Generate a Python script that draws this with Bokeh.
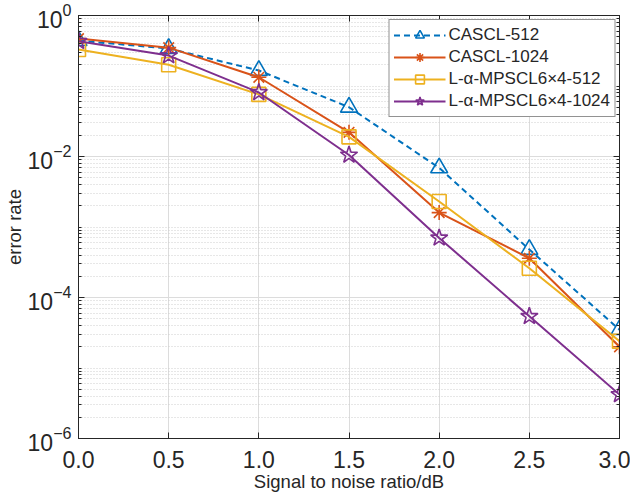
from bokeh.plotting import figure
from bokeh.models import FixedTicker, LogAxis, LinearAxis, LogTickFormatter, NumeralTickFormatter
from bokeh.embed import file_html
from bokeh.resources import INLINE

snr = [0.0, 0.5, 1.0, 1.5, 2.0, 2.5, 3.0]
cascl_512 = [0.44, 0.34, 0.166, 0.050, 0.0069, 4.8e-4, 3.5e-5]
cascl_1024 = [0.47, 0.35, 0.133, 0.022, 0.0016, 3.6e-4, 2.0e-5]
mpscl_512 = [0.33, 0.20, 0.076, 0.019, 0.0023, 2.6e-4, 2.4e-5]
mpscl_1024 = [0.43, 0.27, 0.081, 0.0105, 7.0e-4, 5.4e-5, 4.2e-6]

names = ["CASCL-512", "CASCL-1024", "L-\u03b1-MPSCL6\u00d74-512", "L-\u03b1-MPSCL6\u00d74-1024"]
colors = ["#0072BD", "#D95319", "#EDB120", "#7E2F8E"]
markers = ["triangle", "asterisk", "square", "star"]
sizes = [17, 15, 14, 18]
dashes = ["6 4", "solid", "solid", "solid"]
series = [cascl_512, cascl_1024, mpscl_512, mpscl_1024]

x_ticks = [0.0, 0.5, 1.0, 1.5, 2.0, 2.5, 3.0]
y_ticks = [1e-6, 1e-4, 1e-2, 1.0]

FONT = "Liberation Sans"

p = figure(width=630, height=502, y_axis_type="log", x_range=(0, 3), y_range=(1e-6, 1),
           output_backend="svg", toolbar_location=None,
           min_border_left=77, min_border_right=11, min_border_top=15, min_border_bottom=64)
p.background_fill_color = "white"
p.outline_line_color = "black"
p.outline_line_width = 1

minor = []
for e in range(-6, 0):
    for k in range(1, 10):
        v = k * 10.0 ** e
        if v not in y_ticks:
            minor.append(v)

yt = FixedTicker(ticks=y_ticks, minor_ticks=minor)
xt = FixedTicker(ticks=x_ticks, minor_ticks=[])

p.xaxis[0].ticker = xt
p.xaxis[0].formatter = NumeralTickFormatter(format="0.0")
p.yaxis[0].ticker = yt
p.yaxis[0].formatter = LogTickFormatter()

def style_axis(ax):
    ax.major_tick_in = 6
    ax.major_tick_out = 0
    ax.minor_tick_in = 3
    ax.minor_tick_out = 0
    ax.axis_line_color = "#262626"
    ax.major_tick_line_color = "#262626"
    ax.minor_tick_line_color = "#262626"
    ax.major_label_text_font = FONT
    ax.major_label_text_font_size = "23px"
    ax.major_label_text_color = "#262626"
    ax.axis_label_text_font = FONT
    ax.axis_label_text_font_size = "18.5px"
    ax.axis_label_text_font_style = "normal"
    ax.axis_label_text_color = "#262626"

style_axis(p.xaxis[0])
style_axis(p.yaxis[0])
p.xaxis[0].axis_label = "Signal to noise ratio/dB"
p.yaxis[0].axis_label = "error rate"
p.xaxis[0].major_label_standoff = 12
p.yaxis[0].major_label_standoff = 7
p.xaxis[0].axis_label_standoff = 0
p.yaxis[0].axis_label_standoff = 0

top = LinearAxis(ticker=xt, formatter=NumeralTickFormatter(format="0.0"))
right = LogAxis(ticker=yt, formatter=LogTickFormatter())
for ax in (top, right):
    style_axis(ax)
    ax.major_label_text_font_size = "1px"
    ax.major_label_text_alpha = 0
    ax.major_label_standoff = 0
p.add_layout(top, "above")
p.add_layout(right, "right")

p.xgrid.ticker = xt
p.ygrid.ticker = yt
p.xgrid.grid_line_color = "#dcdcdc"
p.xgrid.grid_line_width = 1
p.ygrid.grid_line_color = "#dcdcdc"
p.ygrid.grid_line_width = 1
p.ygrid.minor_grid_line_color = "#cfcfcf"
p.ygrid.minor_grid_line_dash = "1 2"
p.ygrid.minor_grid_line_width = 1

for name, col, mk, sz, dsh, ys in zip(names, colors, markers, sizes, dashes, series):
    p.line(snr, ys, line_color=col, line_width=2, line_dash=dsh, legend_label=name)
    p.scatter(snr, ys, marker=mk, size=sz, line_color=col, fill_color=None,
              line_width=1.6, legend_label=name)

lg = p.legend[0]
lg.location = "top_right"
lg.margin = 4
lg.padding = 4
lg.spacing = 0
lg.glyph_width = 52
lg.glyph_height = 22
lg.label_height = 22
lg.label_standoff = 3
lg.label_text_font = FONT
lg.label_text_font_size = "17px"
lg.label_text_color = "#262626"
lg.border_line_color = "#262626"
lg.border_line_width = 1
lg.background_fill_color = "white"
lg.background_fill_alpha = 1

open("out.html", "w").write(file_html(p, INLINE))
